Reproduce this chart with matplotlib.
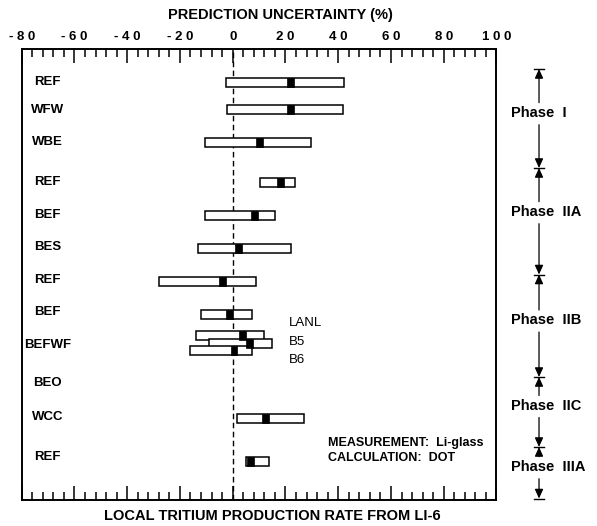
#%% IMPORT

import numpy as np
import matplotlib
matplotlib.use('Agg')
import matplotlib.pyplot as plt
from matplotlib.patches import Rectangle

plt.rcParams['font.family'] = ['Liberation Sans', 'DejaVu Sans']

#%% DADOS

# rótulos das linhas (y em pixels da figura original, eixo invertido)
row_labels = ['REF', 'WFW', 'WBE', 'REF', 'BEF', 'BES', 'REF', 'BEF', 'BEFWF', 'BEO', 'WCC', 'REF']
row_y = [82, 110, 142, 182, 215, 247, 280, 312, 345, 383, 417, 457]

# barras: posição, limite inferior, superior e valor central (%)
bar_y = [82.5, 109.7, 142.5, 182, 215.5, 248.5, 281.5, 314, 335, 343.5, 350.5, 418.5, 461]
bar_lo = [-2.5, -2.1, -10.6, 10.3, -10.6, -13.1, -28.0, -11.9, -13.9, -9.0, -16.2, 1.7, 4.9]
bar_hi = [42.2, 41.9, 29.8, 23.8, 16.2, 22.2, 8.7, 7.4, 11.8, 15.0, 7.4, 27.0, 13.9]
bar_mid = [21.8, 22.0, 10.1, 18.1, 8.2, 2.2, -3.9, -1.1, 3.8, 6.5, 0.5, 12.5, 6.6]

befwf_names = ['LANL', 'B5', 'B6']
befwf_text_y = [322.7, 341.7, 360]

phase_names = ['Phase  I', 'Phase  IIA', 'Phase  IIB', 'Phase  IIC', 'Phase  IIIA']
phase_bounds = [69, 168, 274.5, 377, 447, 498.5]
phase_text_y = [112.7, 211.7, 320, 405.5, 466.7]

tick_labels = ['- 8 0', '- 6 0', '- 4 0', '- 2 0', '0', '2 0', '4 0', '6 0', '8 0', '1 0 0']

#%% FIGURA

fig = plt.figure(figsize=(5.97, 5.26), dpi=100)
ax = fig.add_axes([0.0363, 0.0494, 0.7953, 0.8565])
ax.set_xlim(-80, 100)
ax.set_ylim(500, 49.5)

ax.set_xticks(np.arange(-80, 101, 20))
ax.set_xticks(np.arange(-80, 101, 4), minor=True)
ax.set_xticklabels(tick_labels, fontsize=9.5, fontweight='bold')
ax.set_yticks([])
ax.tick_params(axis='x', which='both', direction='in', top=True, bottom=True,
               labeltop=True, labelbottom=False, width=1.1, pad=4.5)
ax.tick_params(axis='x', which='major', length=10)
ax.tick_params(axis='x', which='minor', length=6)
for s in ax.spines.values():
    s.set_linewidth(1.4)

ax.axvline(0, color='k', lw=1, ls=(0, (4, 2.5)), zorder=1)

# barras de incerteza
bh = 9
mw = 2.6
for y, lo, hi, mid in zip(bar_y, bar_lo, bar_hi, bar_mid):
    ax.add_patch(Rectangle((lo, y - bh / 2), hi - lo, bh, facecolor='white',
                           edgecolor='k', lw=1.1, zorder=3))
    ax.add_patch(Rectangle((mid - mw / 2, y - bh / 2), mw, bh, facecolor='k',
                           edgecolor='k', lw=0.5, zorder=4))

for lab, y in zip(row_labels, row_y):
    ax.text(-70.3, y, lab, ha='center', va='center', fontsize=9.5, fontweight='bold')

for lab, y in zip(befwf_names, befwf_text_y):
    ax.text(21.3, y, lab, ha='left', va='center', fontsize=9.5)

ax.text(36.1, 443.3, 'MEASUREMENT:  Li-glass', ha='left', va='center', fontsize=9, fontweight='bold')
ax.text(36.1, 458.3, 'CALCULATION:  DOT', ha='left', va='center', fontsize=9, fontweight='bold')

fig.text(280 / 597, 1 - 15 / 526, 'PREDICTION UNCERTAINTY (%)', ha='center', va='center',
         fontsize=10.5, fontweight='bold')
fig.text(272 / 597, 1 - 516 / 526, 'LOCAL TRITIUM PRODUCTION RATE FROM LI-6', ha='center',
         va='center', fontsize=10.5, fontweight='bold')

#%% FASES

ax2 = fig.add_axes([0.8317, 0.0494, 1 - 0.8317, 0.8565])
ax2.set_xlim(496.5, 597)
ax2.set_ylim(ax.get_ylim())
ax2.axis('off')

px = 539
arr = dict(arrowstyle='-|>,head_length=0.55,head_width=0.25', mutation_scale=10,
           color='k', lw=0.9, shrinkA=0, shrinkB=0)
for i, name in enumerate(phase_names):
    top, bot = phase_bounds[i], phase_bounds[i + 1]
    ty = phase_text_y[i]
    ax2.text(510.5, ty, name, ha='left', va='center', fontsize=10.5, fontweight='bold')
    ax2.annotate('', xy=(px, top), xytext=(px, ty - 10), arrowprops=arr)
    ax2.annotate('', xy=(px, bot), xytext=(px, ty + 12), arrowprops=arr)

for b in phase_bounds:
    ax2.plot([px - 5, px + 5], [b, b], color='k', lw=1, clip_on=False)

plt.savefig('out.png', dpi=100)
